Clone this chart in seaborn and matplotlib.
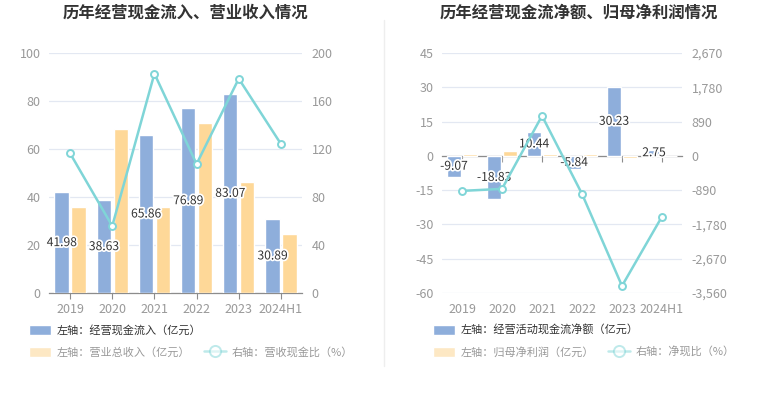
import numpy as np
import pandas as pd
import matplotlib
matplotlib.use("Agg")
import matplotlib.pyplot as plt
import seaborn as sns
from matplotlib import patheffects
from matplotlib.lines import Line2D
from matplotlib.patches import Patch

# ---------------------------------------
# Data
# ---------------------------------------
years = ["2019", "2020", "2021", "2022", "2023", "2024H1"]

# left panel
cash_in = [41.98, 38.63, 65.86, 76.89, 83.07, 30.89]
revenue = [35.9, 68.2, 35.8, 70.8, 46.1, 24.5]
cash_rev_ratio = [116.4, 55.8, 182.8, 107.5, 178.6, 124.2]

# right panel
net_cash = [-9.07, -18.83, 10.44, -5.84, 30.23, 2.75]
net_profit = [1.0, 2.2, 1.0, 0.6, -0.9, -0.17]
net_ratio = [-909, -857, 1039, -987, -3376, -1576]

BLUE = "#8eaedb"
ORANGE = "#fed898"
ORANGE_LEG = "#fde8c4"
TEAL = "#7fd5d7"
GRID = "#e3e8f2"
TICK = "#999999"
AXIS = "#8c8c8c"

sns.set_theme(style="white")
plt.rcParams["font.family"] = ["Noto Sans CJK SC", "DejaVu Sans"]
plt.rcParams["axes.unicode_minus"] = False

fig = plt.figure(figsize=(7.65, 3.93), dpi=100)
W, H = 765, 393


def rect(x0, x1, ytop, ybot):
    return [x0 / W, 1 - ybot / H, (x1 - x0) / W, (ybot - ytop) / H]


def draw_panel(r, bar1, bar2, line, ylim, yticks, y2lim, y2ticks, fmt2, zero_axis):
    ax = fig.add_axes(r)
    df = pd.DataFrame({
        "year": years * 2,
        "value": bar1 + bar2,
        "series": ["a"] * len(years) + ["b"] * len(years),
    })
    sns.barplot(data=df, x="year", y="value", hue="series",
                palette=[BLUE, ORANGE], saturation=1, width=0.8, gap=0.15,
                legend=False, ax=ax, zorder=2)
    ax.set_ylim(*ylim)
    ax.set_yticks(yticks)
    ax.set_xlabel("")
    ax.set_ylabel("")
    ax.grid(axis="y", color=GRID, linewidth=0.9, zorder=0)
    ax.set_axisbelow(True)
    for s in ["top", "left", "right"]:
        ax.spines[s].set_visible(False)
    ax.tick_params(axis="y", length=0, pad=6, labelsize=9, labelcolor=TICK)
    ax.spines["bottom"].set_color(AXIS)
    ax.spines["bottom"].set_linewidth(0.9)
    ax.spines["bottom"].set_zorder(1.5)
    ax.tick_params(axis="x", length=4, width=0.8, color=AXIS, pad=3,
                   labelsize=9, labelcolor=TICK, bottom=True)

    ax.bar_label(ax.containers[0], labels=[f"{v:.2f}" for v in bar1],
                 label_type="center", fontsize=8.7, color="#333333",
                 path_effects=[patheffects.withStroke(linewidth=2.5, foreground="white")],
                 zorder=6)

    ax2 = ax.twinx()
    sns.lineplot(x=np.arange(len(years)), y=line, ax=ax2, color=TEAL,
                 linewidth=1.8, marker="o", markersize=5,
                 markerfacecolor="white", markeredgecolor=TEAL,
                 markeredgewidth=1.4, zorder=5)
    ax2.set_ylim(*y2lim)
    ax2.set_yticks(y2ticks)
    ax2.set_yticklabels([fmt2(v) for v in y2ticks])
    ax2.tick_params(axis="y", length=0, pad=7, labelsize=9, labelcolor=TICK)
    for s in ["top", "left", "right", "bottom"]:
        ax2.spines[s].set_visible(False)
    ax2.grid(False)

    if zero_axis:
        # category axis line sits on zero, labels stay at the bottom
        ax.spines["bottom"].set_position(("data", 0))
        ax.tick_params(axis="x", labelbottom=False)
        ax2.xaxis.set_visible(True)
        ax2.tick_params(axis="x", length=0, pad=7, labelsize=9, labelcolor=TICK,
                        bottom=True, labelbottom=True, top=False, labeltop=False)
    ax.set_xlim(-0.5, len(years) - 0.5)
    return ax, ax2


draw_panel(rect(49, 302, 53, 293), cash_in, revenue, cash_rev_ratio,
           (0, 100), np.arange(0, 101, 20), (0, 200), np.arange(0, 201, 40),
           lambda v: f"{v:d}", zero_axis=False)

draw_panel(rect(442, 682, 53, 293), net_cash, net_profit, net_ratio,
           (-60, 45), np.arange(-60, 46, 15), (-3560, 2670), np.arange(-3560, 2671, 890),
           lambda v: f"{v:,d}", zero_axis=True)

# titles
fig.text(185 / W, 1 - 13 / H, "历年经营现金流入、营业收入情况", ha="center", va="center",
         fontsize=11.8, fontweight="bold", color="#333333")
fig.text(579 / W, 1 - 13 / H, "历年经营现金流净额、归母净利润情况", ha="center", va="center",
         fontsize=11.8, fontweight="bold", color="#333333")

# divider
fig.add_artist(Line2D([384 / W, 384 / W], [1 - 20 / H, 1 - 366 / H],
                      color="#eeeeee", linewidth=1))


# legends
def add_legend(x, y, handles, labels, colors, ncol=1):
    leg = fig.legend(handles, labels, loc="center left",
                     bbox_to_anchor=(x / W, 1 - y / H), frameon=False,
                     ncol=ncol, fontsize=8, handlelength=2.0, handleheight=1.0,
                     handletextpad=0.5, columnspacing=1.2, borderpad=0,
                     borderaxespad=0)
    for t, c in zip(leg.get_texts(), colors):
        t.set_color(c)
    return leg


line_handle = Line2D([], [], color=TEAL, alpha=0.5, linewidth=1.8, marker="o",
                     markersize=8, markerfacecolor="white", markeredgecolor=TEAL,
                     markeredgewidth=1.4)

add_legend(29, 330, [Patch(facecolor=BLUE)], ["左轴：经营现金流入（亿元）"], ["#333333"])
add_legend(29, 352, [Patch(facecolor=ORANGE_LEG), line_handle],
           ["左轴：营业总收入（亿元）", "右轴：营收现金比（%）"], ["#999999", "#999999"], ncol=2)

add_legend(433, 330, [Patch(facecolor=BLUE)], ["左轴：经营活动现金流净额（亿元）"], ["#333333"])
add_legend(433, 352, [Patch(facecolor=ORANGE_LEG), line_handle],
           ["左轴：归母净利润（亿元）", "右轴：净现比（%）"], ["#999999", "#999999"], ncol=2)

fig.savefig("out.png", dpi=100)
